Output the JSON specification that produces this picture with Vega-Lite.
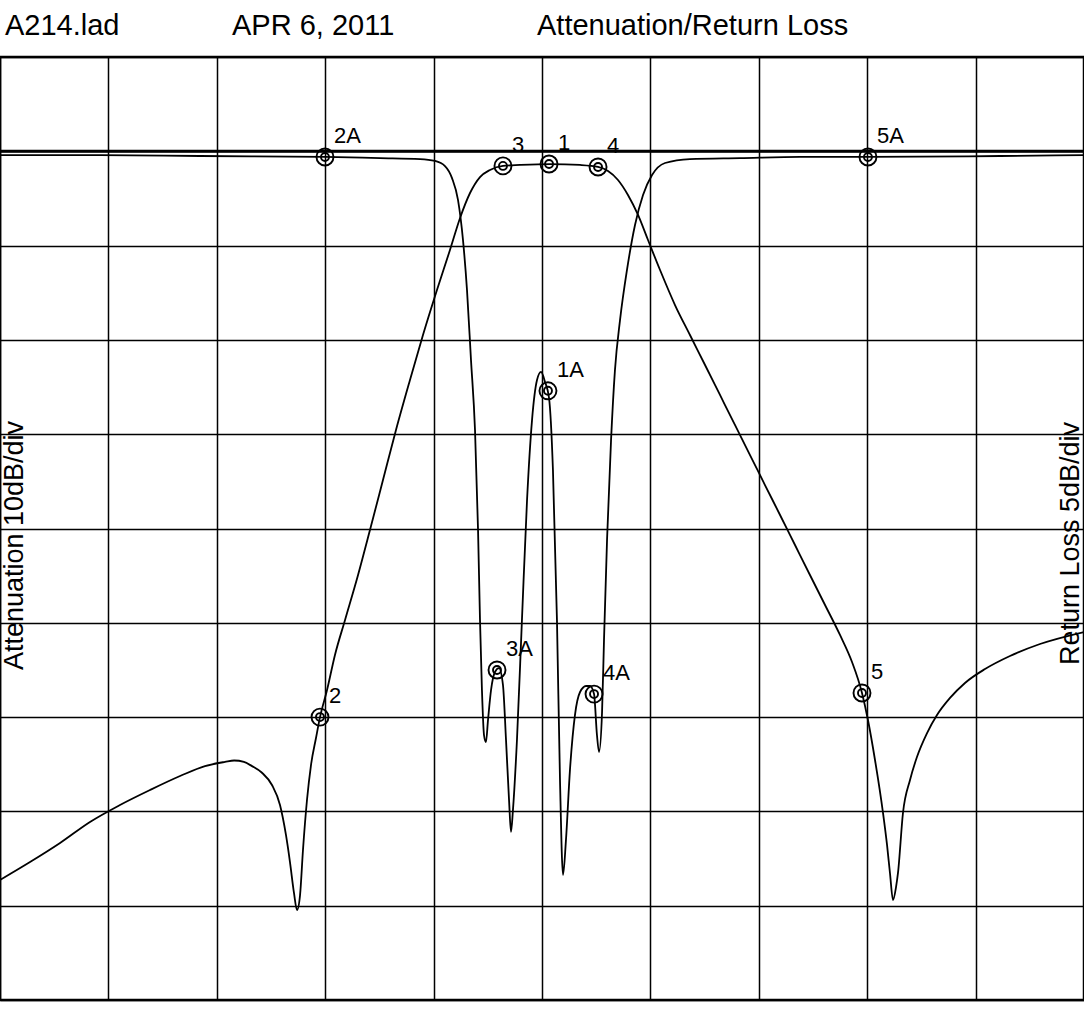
{
  "$schema": "https://vega.github.io/schema/vega-lite/v6.json",
  "width": 1084,
  "height": 943,
  "autosize": {"type": "none"},
  "padding": {"top": 57, "left": 0, "right": 0, "bottom": 13},
  "background": "white",
  "config": {
    "view": {"stroke": "black", "strokeWidth": 2.5},
    "font": "Liberation Sans",
    "axisX": {"grid": true, "labels": false, "ticks": false, "domain": false, "tickCount": 10, "gridColor": "black", "gridOpacity": 1, "gridWidth": 1.5}
  },
  "datasets": {
    "att": [
      {"f": 0, "db": 77.27}, {"f": 0.277, "db": 75.37}, {"f": 0.554, "db": 73.35}, {"f": 0.83, "db": 71.12},
      {"f": 1.107, "db": 69.32}, {"f": 1.384, "db": 67.73}, {"f": 1.661, "db": 66.25}, {"f": 1.891, "db": 65.19},
      {"f": 2.076, "db": 64.75}, {"f": 2.16, "db": 64.6}, {"f": 2.25, "db": 64.75}, {"f": 2.325, "db": 65.2}, {"f": 2.417, "db": 65.9},
      {"f": 2.509, "db": 67.2}, {"f": 2.583, "db": 69.32}, {"f": 2.638, "db": 72.5}, {"f": 2.675, "db": 75.37},
      {"f": 2.712, "db": 78.65}, {"f": 2.74, "db": 80.46}, {"f": 2.768, "db": 78.87}, {"f": 2.795, "db": 74.09},
      {"f": 2.832, "db": 68.79}, {"f": 2.869, "db": 65.08}, {"f": 2.915, "db": 62.22}, {"f": 2.952, "db": 60.0},
      {"f": 3.017, "db": 57.13}, {"f": 3.09, "db": 53.41}, {"f": 3.183, "db": 49.7}, {"f": 3.303, "db": 44.93},
      {"f": 3.413, "db": 40.16}, {"f": 3.533, "db": 34.86}, {"f": 3.653, "db": 29.55}, {"f": 3.782, "db": 24.25},
      {"f": 3.902, "db": 19.48}, {"f": 4.031, "db": 14.71}, {"f": 4.151, "db": 10.47}, {"f": 4.244, "db": 7.07},
      {"f": 4.336, "db": 4.42}, {"f": 4.428, "db": 2.73}, {"f": 4.52, "db": 1.98}, {"f": 4.64, "db": 1.55},
      {"f": 4.797, "db": 1.45}, {"f": 5.074, "db": 1.35}, {"f": 5.351, "db": 1.45}, {"f": 5.517, "db": 1.66},
      {"f": 5.609, "db": 2.09}, {"f": 5.701, "db": 3.04}, {"f": 5.793, "db": 4.63}, {"f": 5.886, "db": 6.75},
      {"f": 5.978, "db": 9.41}, {"f": 6.089, "db": 12.59}, {"f": 6.227, "db": 16.3}, {"f": 6.365, "db": 19.48},
      {"f": 6.504, "db": 22.66}, {"f": 6.642, "db": 25.84}, {"f": 6.78, "db": 29.02}, {"f": 6.919, "db": 32.21},
      {"f": 7.057, "db": 35.39}, {"f": 7.196, "db": 38.57}, {"f": 7.334, "db": 41.75}, {"f": 7.472, "db": 44.93},
      {"f": 7.611, "db": 48.11}, {"f": 7.749, "db": 51.29}, {"f": 7.86, "db": 54.16}, {"f": 7.952, "db": 57.44},
      {"f": 8.007, "db": 60.31}, {"f": 8.072, "db": 64.55}, {"f": 8.146, "db": 70.17}, {"f": 8.183, "db": 73.56},
      {"f": 8.21, "db": 76.53}, {"f": 8.238, "db": 79.4}, {"f": 8.266, "db": 78.02}, {"f": 8.284, "db": 76.53},
      {"f": 8.33, "db": 70.17}, {"f": 8.395, "db": 66.67}, {"f": 8.459, "db": 64.23}, {"f": 8.552, "db": 61.69},
      {"f": 8.644, "db": 59.78}, {"f": 8.764, "db": 57.97}, {"f": 8.902, "db": 56.38}, {"f": 9.087, "db": 54.9},
      {"f": 9.317, "db": 53.52}, {"f": 9.594, "db": 52.25}, {"f": 10, "db": 50.98}
    ],
    "rl": [
      {"f": 0, "db": 0.2}, {"f": 0.923, "db": 0.2}, {"f": 1.845, "db": 0.25}, {"f": 2.998, "db": 0.3},
      {"f": 3.506, "db": 0.36}, {"f": 3.875, "db": 0.41}, {"f": 4.013, "db": 0.51}, {"f": 4.105, "db": 0.78},
      {"f": 4.17, "db": 1.42}, {"f": 4.225, "db": 2.58}, {"f": 4.271, "db": 4.7}, {"f": 4.308, "db": 7.35},
      {"f": 4.345, "db": 11.07}, {"f": 4.382, "db": 14.78}, {"f": 4.41, "db": 20.08}, {"f": 4.428, "db": 24.85},
      {"f": 4.446, "db": 28.56}, {"f": 4.465, "db": 30.95}, {"f": 4.483, "db": 31.32}, {"f": 4.502, "db": 30.15},
      {"f": 4.53, "db": 28.56}, {"f": 4.566, "db": 27.61}, {"f": 4.603, "db": 27.4}, {"f": 4.64, "db": 28.3},
      {"f": 4.668, "db": 31.21}, {"f": 4.696, "db": 34.4}, {"f": 4.714, "db": 36.09}, {"f": 4.732, "db": 34.93},
      {"f": 4.769, "db": 31.21}, {"f": 4.815, "db": 24.85}, {"f": 4.862, "db": 18.49}, {"f": 4.908, "db": 14.25},
      {"f": 4.954, "db": 12.13}, {"f": 4.991, "db": 11.7}, {"f": 5.028, "db": 12.23}, {"f": 5.065, "db": 13.08},
      {"f": 5.101, "db": 16.9}, {"f": 5.138, "db": 24.85}, {"f": 5.166, "db": 33.34}, {"f": 5.194, "db": 38.37},
      {"f": 5.221, "db": 36.52}, {"f": 5.258, "db": 32.8}, {"f": 5.304, "db": 29.89}, {"f": 5.351, "db": 28.67},
      {"f": 5.406, "db": 28.35}, {"f": 5.443, "db": 28.35}, {"f": 5.48, "db": 28.78}, {"f": 5.507, "db": 30.95},
      {"f": 5.526, "db": 31.85}, {"f": 5.554, "db": 29.73}, {"f": 5.572, "db": 25.91}, {"f": 5.6, "db": 20.61},
      {"f": 5.637, "db": 15.31}, {"f": 5.673, "db": 11.6}, {"f": 5.72, "db": 8.94}, {"f": 5.784, "db": 6.29},
      {"f": 5.858, "db": 3.91}, {"f": 5.932, "db": 2.32}, {"f": 6.015, "db": 1.26}, {"f": 6.135, "db": 0.62},
      {"f": 6.365, "db": 0.41}, {"f": 6.827, "db": 0.36}, {"f": 7.38, "db": 0.3}, {"f": 8.007, "db": 0.3},
      {"f": 9.225, "db": 0.25}, {"f": 10, "db": 0.2}
    ],
    "attMarkers": [
      {"label": "2", "f": 2.952, "db": 60.0},
      {"label": "3", "f": 4.64, "db": 1.55},
      {"label": "1", "f": 5.065, "db": 1.35},
      {"label": "4", "f": 5.517, "db": 1.66},
      {"label": "5", "f": 7.952, "db": 57.44}
    ],
    "rlMarkers": [
      {"label": "2A", "f": 2.998, "db": 0.3},
      {"label": "3A", "f": 4.585, "db": 27.5},
      {"label": "1A", "f": 5.055, "db": 12.7},
      {"label": "4A", "f": 5.48, "db": 28.78},
      {"label": "5A", "f": 8.007, "db": 0.3}
    ],
    "header": [
      {"f": 0.046, "db": -12.3, "text": "A214.lad"},
      {"f": 2.14, "db": -12.3, "text": "APR 6, 2011"},
      {"f": 4.954, "db": -12.3, "text": "Attenuation/Return Loss"}
    ],
    "reference": [{"level": 0}]
  },
  "layer": [
    {
      "data": {"name": "reference"},
      "mark": {"type": "rule", "stroke": "black", "strokeWidth": 3},
      "encoding": {
        "y": {
          "field": "level", "type": "quantitative",
          "scale": {"domain": [-10, 90], "reverse": true, "nice": false, "zero": false},
          "axis": {
            "orient": "left", "grid": true, "values": [-10, 0, 10, 20, 30, 40, 50, 60, 70, 80, 90],
            "labels": false, "ticks": false, "domain": false,
            "gridColor": "black", "gridOpacity": 1, "gridWidth": 1.5,
            "title": "Attenuation 10dB/div", "titleX": 22, "titleY": 488, "titleAngle": -90,
            "titleAlign": "center", "titleBaseline": "alphabetic", "titleFontSize": 27,
            "titleFontWeight": "normal", "titleColor": "black", "titleFont": "Liberation Sans"
          }
        }
      }
    },
    {
      "data": {"name": "att"},
      "mark": {"type": "line", "stroke": "black", "strokeWidth": 1.8, "interpolate": "monotone"},
      "encoding": {
        "x": {"field": "f", "type": "quantitative", "title": null, "scale": {"domain": [0, 10], "nice": false, "zero": false}},
        "y": {"field": "db", "type": "quantitative", "scale": {"domain": [-10, 90], "reverse": true, "nice": false, "zero": false}, "axis": null}
      }
    },
    {
      "data": {"name": "rl"},
      "mark": {"type": "line", "stroke": "black", "strokeWidth": 1.8, "interpolate": "monotone"},
      "encoding": {
        "x": {"field": "f", "type": "quantitative", "title": null},
        "y": {
          "field": "db", "type": "quantitative",
          "scale": {"domain": [-5, 45], "reverse": true, "nice": false, "zero": false},
          "axis": {
            "orient": "right", "grid": false, "labels": false, "ticks": false, "domain": false,
            "title": "Return Loss 5dB/div", "titleX": -6, "titleY": 486, "titleAngle": -90,
            "titleAlign": "center", "titleBaseline": "alphabetic", "titleFontSize": 27,
            "titleFontWeight": "normal", "titleColor": "black", "titleFont": "Liberation Sans"
          }
        }
      }
    },
    {
      "data": {"name": "attMarkers"},
      "mark": {"type": "point", "shape": "circle", "filled": false, "stroke": "black", "strokeWidth": 1.9, "size": 289, "opacity": 1},
      "encoding": {
        "x": {"field": "f", "type": "quantitative", "title": null},
        "y": {"field": "db", "type": "quantitative", "scale": {"domain": [-10, 90], "reverse": true, "nice": false, "zero": false}, "axis": null}
      }
    },
    {
      "data": {"name": "attMarkers"},
      "mark": {"type": "point", "shape": "circle", "filled": false, "stroke": "black", "strokeWidth": 1.9, "size": 64, "opacity": 1},
      "encoding": {
        "x": {"field": "f", "type": "quantitative", "title": null},
        "y": {"field": "db", "type": "quantitative", "scale": {"domain": [-10, 90], "reverse": true, "nice": false, "zero": false}, "axis": null}
      }
    },
    {
      "data": {"name": "attMarkers"},
      "mark": {"type": "text", "align": "left", "baseline": "alphabetic", "dx": 9, "dy": -14, "fontSize": 22, "font": "Liberation Sans", "color": "black"},
      "encoding": {
        "x": {"field": "f", "type": "quantitative", "title": null},
        "y": {"field": "db", "type": "quantitative", "scale": {"domain": [-10, 90], "reverse": true, "nice": false, "zero": false}, "axis": null},
        "text": {"field": "label"}
      }
    },
    {
      "data": {"name": "rlMarkers"},
      "mark": {"type": "point", "shape": "circle", "filled": false, "stroke": "black", "strokeWidth": 1.9, "size": 289, "opacity": 1},
      "encoding": {
        "x": {"field": "f", "type": "quantitative", "title": null},
        "y": {"field": "db", "type": "quantitative", "scale": {"domain": [-5, 45], "reverse": true, "nice": false, "zero": false}, "axis": null}
      }
    },
    {
      "data": {"name": "rlMarkers"},
      "mark": {"type": "point", "shape": "circle", "filled": false, "stroke": "black", "strokeWidth": 1.9, "size": 64, "opacity": 1},
      "encoding": {
        "x": {"field": "f", "type": "quantitative", "title": null},
        "y": {"field": "db", "type": "quantitative", "scale": {"domain": [-5, 45], "reverse": true, "nice": false, "zero": false}, "axis": null}
      }
    },
    {
      "data": {"name": "rlMarkers"},
      "mark": {"type": "text", "align": "left", "baseline": "alphabetic", "dx": 9, "dy": -14, "fontSize": 22, "font": "Liberation Sans", "color": "black"},
      "encoding": {
        "x": {"field": "f", "type": "quantitative", "title": null},
        "y": {"field": "db", "type": "quantitative", "scale": {"domain": [-5, 45], "reverse": true, "nice": false, "zero": false}, "axis": null},
        "text": {"field": "label"}
      }
    },
    {
      "data": {"name": "header"},
      "mark": {"type": "text", "align": "left", "baseline": "alphabetic", "fontSize": 29, "font": "Liberation Sans", "color": "black"},
      "encoding": {
        "x": {"field": "f", "type": "quantitative", "title": null},
        "y": {"field": "db", "type": "quantitative", "scale": {"domain": [-10, 90], "reverse": true, "nice": false, "zero": false}, "axis": null},
        "text": {"field": "text"}
      }
    }
  ],
  "resolve": {"scale": {"y": "independent"}}
}
